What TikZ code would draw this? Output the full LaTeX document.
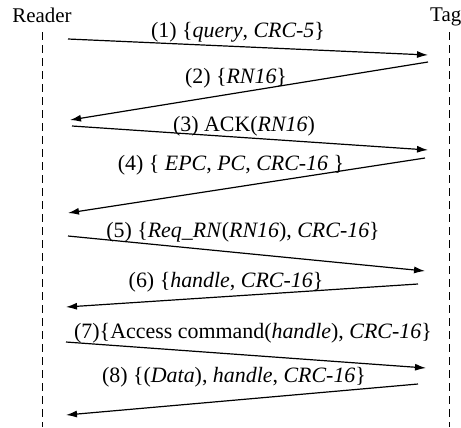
\documentclass[tikz,border=0pt]{standalone}
\usepackage{fontspec}
\setmainfont{Liberation Serif}
\usetikzlibrary{arrows.meta}
\begin{document}
\begin{tikzpicture}[x=1bp,y=-1bp,
  lifeline/.style={line width=1bp,dash pattern=on 8bp off 5bp},
  msg/.style={line width=1.2bp,-{Latex[length=11bp,width=7bp]}},
  lbl/.style={inner sep=0pt,font=\fontsize{22}{24}\selectfont},
  who/.style={inner sep=0pt,font=\fontsize{21}{23}\selectfont}]
\useasboundingbox (0,0) rectangle (461,427);
\node[who,anchor=base] (reader) at (42,22) {Reader};
\node[who,anchor=base west] (tag) at (430,21) {Tag};
\coordinate (rtop) at (42,32);
\coordinate (rbot) at (42,427);
\coordinate (ttop) at (449,32);
\coordinate (tbot) at (449,427);
\draw[lifeline] (rtop) -- (rbot);
\draw[lifeline] (ttop) -- (tbot);
% message endpoints
\coordinate (a1) at (68,39);  \coordinate (b1) at (428,55);
\coordinate (a2) at (428,62); \coordinate (b2) at (70,120);
\coordinate (a3) at (72,126); \coordinate (b3) at (428,150);
\coordinate (a4) at (425,158);\coordinate (b4) at (68,213);
\coordinate (a5) at (68,236); \coordinate (b5) at (425,271);
\coordinate (a6) at (418,284);\coordinate (b6) at (66,307);
\coordinate (a7) at (66,342); \coordinate (b7) at (426,368);
\coordinate (a8) at (418,384);\coordinate (b8) at (66,415);
\draw[msg] (a1) -- (b1);
\draw[msg] (a2) -- (b2);
\draw[msg] (a3) -- (b3);
\draw[msg] (a4) -- (b4);
\draw[msg] (a5) -- (b5);
\draw[msg] (a6) -- (b6);
\draw[msg] (a7) -- (b7);
\draw[msg] (a8) -- (b8);
% labels
\node[lbl] (l1) at (238,32) {(1) \{\textit{query}, \textit{CRC-5}\}};
\node[lbl] (l2) at (236,78) {(2) \{\textit{RN16}\}};
\node[lbl] (l3) at (244,126) {(3) ACK(\textit{RN16})};
\node[lbl] (l4) at (231,165) {(4) \{ \textit{EPC}, \textit{PC}, \textit{CRC-16} \}};
\node[lbl] (l5) at (243,232) {(5) \{\textit{Req\_RN}(\textit{RN16}), \textit{CRC-16}\}};
\node[lbl] (l6) at (226,282) {(6) \{\textit{handle}, \textit{CRC-16}\}};
\node[lbl] (l7) at (253,333) {(7)\{Access command(\textit{handle}), \textit{CRC-16}\}};
\node[lbl] (l8) at (234,377) {(8) \{(\textit{Data}), \textit{handle}, \textit{CRC-16}\}};
\end{tikzpicture}
\end{document}
